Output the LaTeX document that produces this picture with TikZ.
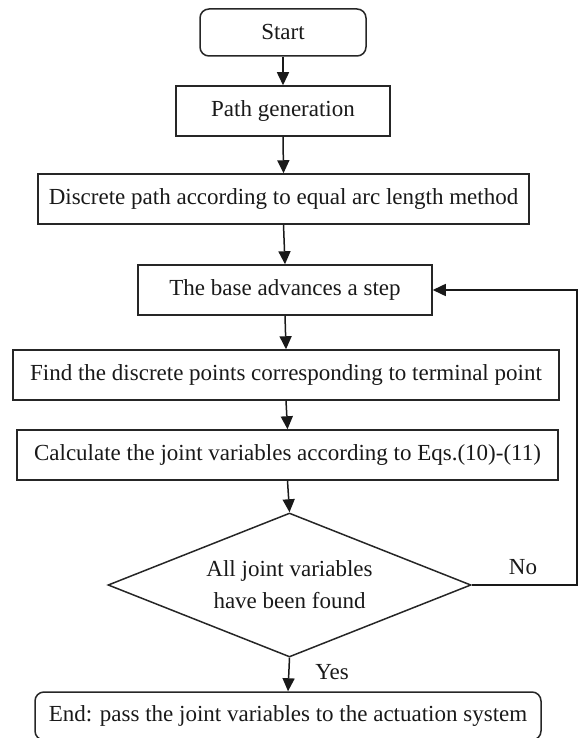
\documentclass[tikz,border=0pt]{standalone}
\usepackage{fontspec}
\setmainfont{Liberation Serif}
\usetikzlibrary{shapes.geometric,arrows.meta}
\begin{document}
\begin{tikzpicture}[x=1pt,y=-1pt,
  box/.style={draw=black!85, line width=1.5pt, inner sep=0pt, align=center,
    font=\fontsize{23}{32}\selectfont, text=black!90},
  rbox/.style={box, rounded corners=9pt},
  lbl/.style={font=\fontsize{23}{28}\selectfont, text=black!90, inner sep=0pt},
  arr/.style={-{Triangle[length=13pt,width=12pt]}, line width=1.5pt, draw=black!90}]
\clip (0,0) rectangle (578,738);
\node[rbox, minimum width=166pt, minimum height=47pt] (start) at (283,32.5) {Start};
\node[box, minimum width=214pt, minimum height=50pt] (pg) at (283,111) {Path generation};
\node[box, minimum width=491pt, minimum height=50pt] (dp) at (283.5,199) {Discrete path according to equal arc length method};
\node[box, minimum width=294pt, minimum height=50pt] (base) at (285,290) {The base advances a step};
\node[box, minimum width=546pt, minimum height=50pt] (find) at (286,375) {Find the discrete points corresponding to terminal point};
\node[box, minimum width=541pt, minimum height=50pt] (calc) at (287.5,455) {Calculate the joint variables according to Eqs.(10)-(11)};
\node[box, shape=diamond, aspect=2.5, minimum width=363pt, minimum height=144pt] (dia) at (289.5,585) {All joint variables\\have been found};
\node[rbox, minimum width=506pt, minimum height=48pt] (end) at (288,716) {End: pass the joint variables to the actuation system};
\coordinate (lp) at (577,585);
\draw[arr] (start.south) -- (pg.north);
\draw[arr] (pg.south) -- (dp.north);
\draw[arr] (dp.south) -- (base.north);
\draw[arr] (base.south) -- (find.north);
\draw[arr] (find.south) -- (calc.north);
\draw[arr] (calc.south) -- (dia.north);
\draw[arr] (dia.south) -- (end.north);
\draw[arr] (dia.east) -- (lp) |- (base.east);
\node[lbl] (no) at (523,567) {No};
\node[lbl] (yes) at (332,672) {Yes};
\end{tikzpicture}
\end{document}
